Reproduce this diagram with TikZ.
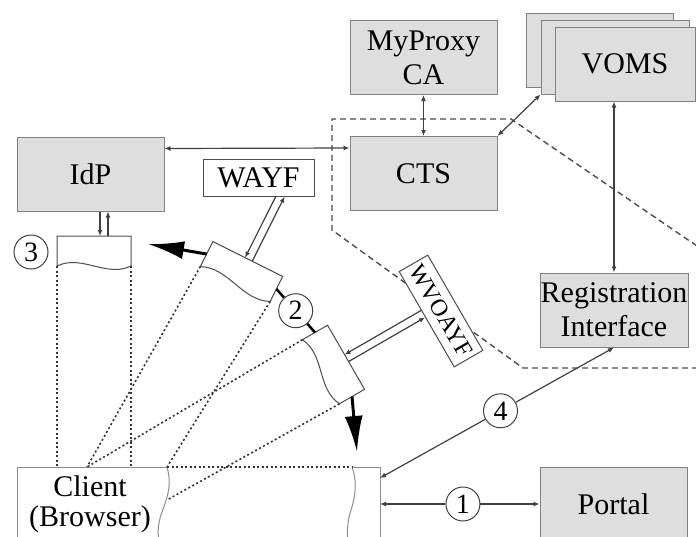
\documentclass[tikz,border=0pt]{standalone}
\usepackage{fontspec}
\setmainfont{Liberation Serif}
\usetikzlibrary{arrows.meta,calc}
\begin{document}
\begin{tikzpicture}[x=1pt,y=-1pt,
  txt/.style={font=\fontsize{30}{34}\selectfont},
  box/.style={draw=black!50, line width=1pt, fill=black!13, minimum width=147pt, minimum height=74pt, inner sep=0pt, align=center, txt},
  wbox/.style={draw=black!70, line width=1pt, fill=white, inner sep=0pt, txt},
  circ/.style={circle, draw=black!75, line width=1pt, fill=white, minimum size=34pt, inner sep=0pt, font=\fontsize{28}{30}\selectfont},
  conn/.style={draw=black!75, line width=1.2pt},
  onehead/.style={-{Latex[length=6pt,width=5pt]}},
  twohead/.style={{Latex[length=6pt,width=5pt]}-{Latex[length=6pt,width=5pt]}},
  bigarrow/.style={draw=black, line width=3pt, -{Latex[length=36pt,width=18pt]}},
  thickline/.style={draw=black, line width=2.5pt},
  docline/.style={draw=black!70, line width=1pt, fill=white},
  dotline/.style={draw=black!80, line width=1.6pt, dash pattern=on 2pt off 2.5pt},
  dashline/.style={draw=black!70, line width=1.4pt, dash pattern=on 6pt off 4pt},
  clientline/.style={draw=black!45, line width=1pt}
]
\useasboundingbox (0,0) rectangle (696,536);
\clip (0,0) rectangle (696,536);

% dashed region
\draw[dashline] (697,246) -- (511,119) -- (332,119) -- (332,230) -- (523,368) -- (697,368);

% boxes
\node[box] (myproxy) at (423.5,57.5) {MyProxy\\CA};
\node[box] (idp) at (90.5,174) {IdP};
\node[box] (cts) at (423.5,173.5) {CTS};
\node[box] (voms3) at (599.5,50) {};
\node[box, minimum width=148pt] (voms2) at (615,57) {};
\node[box, minimum width=140pt] (voms) at (625,64) {VOMS};
\node[box, minimum width=148pt] (reg) at (614,310) {};
\node[txt, align=center, inner sep=0pt] (reglabel) at (reg) {Registration\\Interface};
\node[box] (portal) at (613.5,504) {Portal};
\node[wbox, minimum width=111pt, minimum height=37pt] (wayf) at (258.5,177.5) {WAYF};
\node[wbox, rotate=-60, minimum width=110pt, minimum height=33pt, font=\fontsize{24}{26}\selectfont] (wvoayf) at (441,311) {WVOAYF};

% client window (broken)
\coordinate (cltl) at (17,467);
\coordinate (cltr) at (167,467);
\coordinate (clp1) at (87,467);
\coordinate (clp2) at (167,500);
\draw[clientline] (cltr) -- (cltl) -- (17,545);
\draw[clientline] (cltr) .. controls (172,485) and (168,495) .. (162,512) .. controls (157,525) and (158,535) .. (159,545);
\node[txt, align=center] (client) at (90,504) {Client\\[-4pt](Browser)};
\coordinate (rptl) at (352,467);
\coordinate (rptr) at (380,467);
\draw[clientline] (rptl) -- (rptr) -- (380,545);
\draw[clientline] (rptl) .. controls (357,480) and (356,495) .. (351,510) .. controls (347,522) and (347,532) .. (348,545);
\coordinate (rpfour) at (380,478);
\coordinate (rpone) at (380,504);

% browser window near IdP
\begin{scope}[shift={(94,251)}]
  \draw[docline] (-37,-15) -- (37,-15) -- (37,15) .. controls (12,27) and (-12,3) .. (-37,15) -- cycle;
  \coordinate (sbl) at (-37,15);
  \coordinate (sbr) at (37,15);
  \coordinate (stone) at (6,-15);
  \coordinate (sttwo) at (14,-15);
\end{scope}
\node[circ] (c3) at (31,252) {3};

% browser window WAYF
\begin{scope}[shift={(241.5,271.5)}, rotate=-26.6]
  \draw[docline] (-39,-14) -- (39,-14) -- (39,14) .. controls (13,26) and (-13,2) .. (-39,14) -- cycle;
  \coordinate (aw) at (-39,0);
  \coordinate (ae) at (39,0);
  \coordinate (abl) at (-39,14);
  \coordinate (abr) at (39,14);
  \coordinate (atone) at (-3,-14);
  \coordinate (attwo) at (5,-14);
  \coordinate (atonef) at (-3,-100);
  \coordinate (attwof) at (5,-100);
\end{scope}

% browser window WVOAYF
\begin{scope}[shift={(333.5,364.5)}, rotate=-60]
  \draw[docline] (-37,-14.5) -- (37,-14.5) -- (37,14.5) .. controls (12,26.5) and (-12,2.5) .. (-37,14.5) -- cycle;
  \coordinate (bw) at (-37,0);
  \coordinate (be) at (37,0);
  \coordinate (bbl) at (-37,14.5);
  \coordinate (bbr) at (37,14.5);
  \coordinate (btone) at (-3,-14.5);
  \coordinate (bttwo) at (5,-14.5);
\end{scope}

% dotted projection lines
\draw[dotline] (sbl) -- (sbl |- cltl);
\draw[dotline] (sbr) -- (sbr |- cltl);
\draw[dotline] (abl) -- (clp1);
\draw[dotline] (bbl) -- (clp1);
\draw[dotline] (abr) -- (cltr);
\draw[dotline] (bbr) -- (clp2);
\draw[dotline] (cltr) -- (rptl);

% connectors
\draw[conn, twohead] ([yshift=-12pt]idp.north east) -- ([yshift=-12pt]cts.north west);
\draw[conn, twohead] (myproxy.south) -- (cts.north);
\draw[conn, twohead] (cts.north east) -- (voms2.south west);
\draw[conn, twohead] (reg.north) -- (reg.north |- voms.south);
\draw[conn, onehead] (stone |- idp.south) -- (stone);
\draw[conn, onehead] (sttwo) -- (sttwo |- idp.south);

\coordinate (waone) at (intersection of atone--atonef and wayf.south west--wayf.south east);
\coordinate (watwo) at (intersection of attwo--attwof and wayf.south west--wayf.south east);
\draw[conn, onehead] (waone) -- (atone);
\draw[conn, onehead] (attwo) -- (watwo);

\coordinate (wvone) at ($(wvoayf.south west)!(btone)!(wvoayf.south east)$);
\coordinate (wvtwo) at ($(wvoayf.south west)!(bttwo)!(wvoayf.south east)$);
\draw[conn, onehead] (wvone) -- (btone);
\draw[conn, onehead] (bttwo) -- (wvtwo);

\coordinate (tipA) at (148,244);
\coordinate (tipB) at (357,452);
\draw[bigarrow] (aw) -- (tipA);
\draw[bigarrow] (be) -- (tipB);

\node[circ] (c2) at ($(ae)!0.5!(bw)$) {2};
\draw[thickline] (ae) -- (c2);
\draw[thickline] (c2) -- (bw);

\node[circ] (c4) at ($(rpfour)!0.515!(reg.south)$) {4};
\draw[conn, onehead] (c4) -- (reg.south);
\draw[conn, onehead] (c4) -- (rpfour);
\node[circ] (c1) at ($(rpone)!0.52!(portal.west)$) {1};
\draw[conn, onehead] (c1) -- (rpone);
\draw[conn, onehead] (c1) -- (portal.west);
\end{tikzpicture}
\end{document}
